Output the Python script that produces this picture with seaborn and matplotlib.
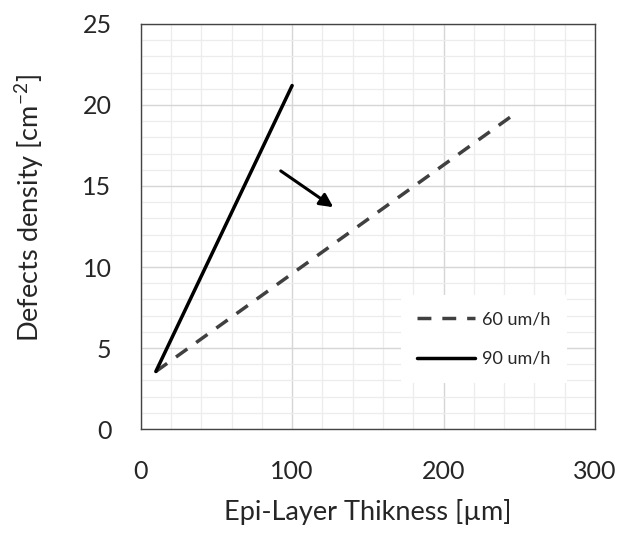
import matplotlib
matplotlib.use("Agg")
import matplotlib.pyplot as plt
from matplotlib.ticker import MultipleLocator
import seaborn as sns
import pandas as pd

# Data
thickness_60 = [10, 244]
density_60 = [3.55, 19.25]
thickness_90 = [10, 100]
density_90 = [3.55, 21.2]
series_labels = ["60 um/h", "90 um/h"]
x_ticks = [0, 100, 200, 300]
y_ticks = [0, 5, 10, 15, 20, 25]

df = pd.concat([
    pd.DataFrame({"x": thickness_60, "y": density_60, "s": series_labels[0]}),
    pd.DataFrame({"x": thickness_90, "y": density_90, "s": series_labels[1]}),
])

sns.set_style("white")
plt.rcParams["font.family"] = ["Lato", "DejaVu Sans"]
plt.rcParams["mathtext.default"] = "regular"

fig = plt.figure(figsize=(6.19, 5.33), dpi=100)
ax = fig.add_axes([0.2273, 0.1951, 0.9612 - 0.2273, 0.955 - 0.1951])

sns.lineplot(data=df, x="x", y="y", hue="s", style="s",
             palette={series_labels[0]: "#404040", series_labels[1]: "#000000"},
             dashes={series_labels[0]: (4.0, 3.15), series_labels[1]: ""},
             linewidth=2.5, ax=ax, legend=True, sort=False)

ax.set_xlim(0, 300)
ax.set_ylim(0, 25)
ax.set_xticks(x_ticks)
ax.set_yticks(y_ticks)
ax.xaxis.set_minor_locator(MultipleLocator(20))
ax.yaxis.set_minor_locator(MultipleLocator(1))
ax.grid(True, which="major", color="#d6d6d6", linewidth=1.0)
ax.grid(True, which="minor", color="#ececec", linewidth=0.9)
ax.set_axisbelow(True)

ax.tick_params(axis="both", which="major", direction="in", length=7, width=1,
               color="#444444", labelsize=18, pad=21)
ax.tick_params(axis="x", which="major", pad=22)
ax.tick_params(axis="both", which="minor", length=0)
for sp in ax.spines.values():
    sp.set_color("#444444")
    sp.set_linewidth(1.0)

ax.set_xlabel("Epi-Layer Thikness [µm]", fontsize=19.5, labelpad=12)
ax.set_ylabel("Defects density [cm$^{-2}$]", fontsize=19.5)
ax.yaxis.set_label_coords(-0.208, 0.546)

ax.annotate("", xy=(127.2, 13.69), xytext=(92.5, 15.93),
            arrowprops=dict(arrowstyle="-|>", color="black", lw=2.2,
                            mutation_scale=20, shrinkA=0, shrinkB=0))

leg = ax.legend(loc="center", bbox_to_anchor=(0.755, 0.222), fontsize=13,
                frameon=True, fancybox=False, framealpha=1, edgecolor="white",
                handlelength=3.2, handletextpad=0.4, labelspacing=1.3,
                borderpad=0.9, title=None)
leg.get_frame().set_linewidth(0)

fig.savefig("out.png", dpi=100)
